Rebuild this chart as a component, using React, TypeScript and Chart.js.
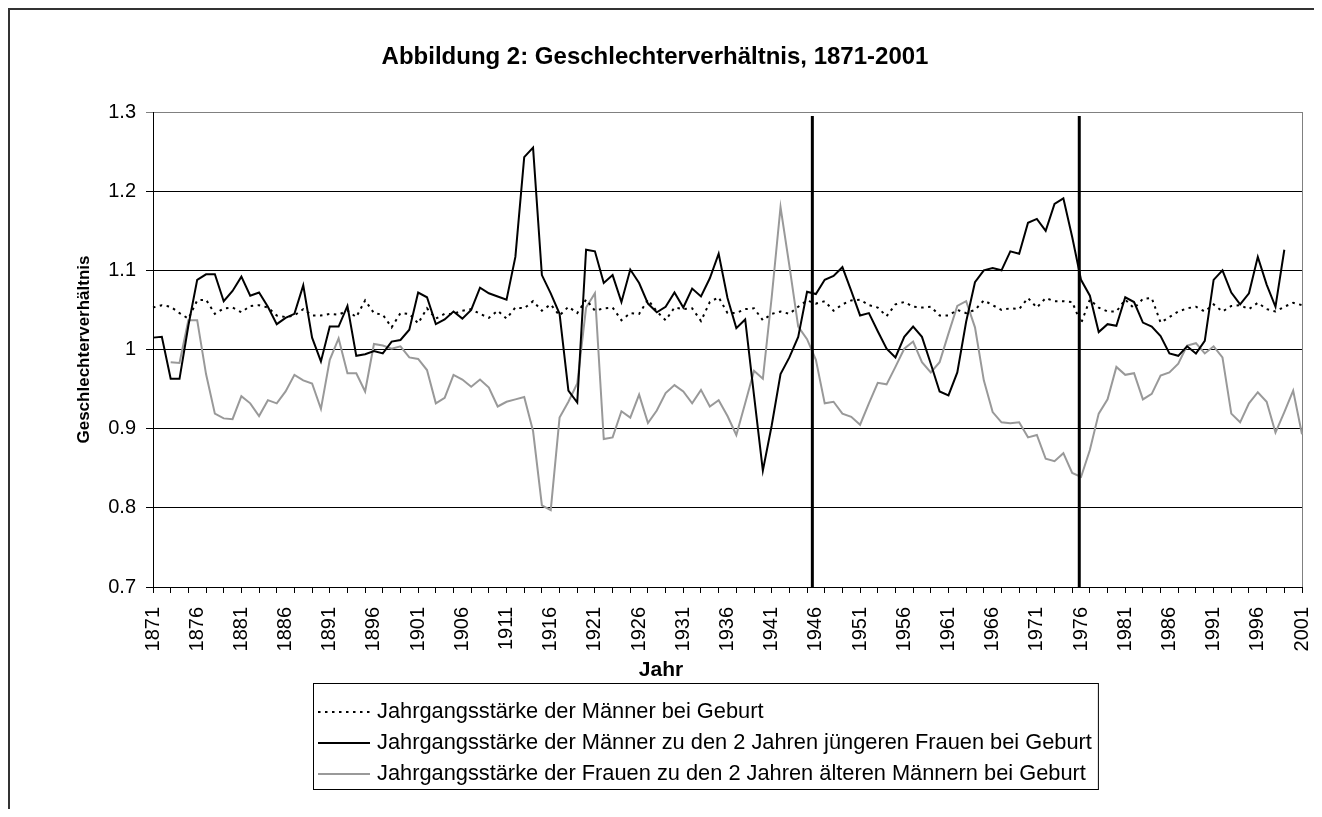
import React, { useEffect, useRef } from 'react';
import { Chart, registerables } from 'chart.js';

Chart.register(...registerables);

const FONT = "'Liberation Sans', Arial, Helvetica, sans-serif";

// Categories: years 1871 .. 2001
const years: string[] = [];
for (let y = 1871; y <= 2001; y++) years.push(String(y));

const chartTitle = 'Abbildung 2: Geschlechterverhältnis, 1871-2001';
const yAxisTitle = 'Geschlechterverhältnis';
const xAxisTitle = 'Jahr';

const seriesLabels = [
  'Jahrgangsstärke der Männer bei Geburt',
  'Jahrgangsstärke der Männer zu den 2 Jahren jüngeren Frauen bei Geburt',
  'Jahrgangsstärke der Frauen zu den 2 Jahren älteren Männern bei Geburt',
];

// Sex ratio at birth (dotted)
const ratioAtBirth: (number | null)[] = [
  1.053, 1.056, 1.054, 1.046, 1.039, 1.062, 1.063, 1.045, 1.052, 1.053, 1.047, 1.055, 1.056, 1.053, 1.043, 1.041, 1.043, 1.051, 1.043, 1.043, 1.045, 1.044, 1.049,
  1.041, 1.062, 1.046, 1.044, 1.028, 1.046, 1.045, 1.033, 1.052, 1.039, 1.045, 1.045, 1.049, 1.051, 1.045, 1.040, 1.049, 1.039, 1.053, 1.052, 1.061,
  1.049, 1.057, 1.043, 1.054, 1.046, 1.063, 1.049, 1.052, 1.053, 1.037, 1.046, 1.045, 1.063, 1.048, 1.037, 1.053, 1.051, 1.052, 1.036, 1.060, 1.066, 1.046,
  1.046, 1.051, 1.052, 1.037, 1.045, 1.048, 1.045, 1.054, 1.062, 1.058, 1.061, 1.049, 1.057, 1.062, 1.063, 1.056, 1.053, 1.042, 1.057, 1.060, 1.054,
  1.053, 1.054, 1.043, 1.043, 1.050, 1.046, 1.050, 1.062, 1.056, 1.050, 1.052, 1.051, 1.065, 1.053, 1.065, 1.061, 1.061, 1.060, 1.033, 1.063, 1.053, 1.048,
  1.048, 1.063, 1.052, 1.064, 1.065, 1.034, 1.041, 1.048, 1.052, 1.054, 1.048, 1.057, 1.048, 1.055, 1.056, 1.051, 1.059, 1.051, 1.048, 1.054, 1.059, 1.056,
];

// Men vs. women born 2 years later (solid black)
const menToYoungerWomen: (number | null)[] = [
  1.015, 1.016, 0.963, 0.963, 1.03, 1.088, 1.095, 1.095, 1.061, 1.074, 1.092, 1.068, 1.072, 1.054, 1.032, 1.040, 1.045, 1.081, 1.015, 0.985, 1.029, 1.029, 1.055,
  0.992, 0.994, 0.998, 0.995, 1.010, 1.012, 1.025, 1.072, 1.066, 1.032, 1.038, 1.048, 1.039, 1.050, 1.078, 1.071, 1.067, 1.063, 1.117, 1.243, 1.255,
  1.094, 1.071, 1.045, 0.948, 0.933, 1.126, 1.124, 1.084, 1.094, 1.060, 1.101, 1.084, 1.058, 1.047, 1.054, 1.072, 1.053, 1.077, 1.067, 1.090, 1.121, 1.065,
  1.027, 1.038, 0.942, 0.847, 0.904, 0.969, 0.990, 1.016, 1.073, 1.070, 1.088, 1.093, 1.104, 1.074, 1.043, 1.046, 1.023, 1.001, 0.990, 1.016, 1.029,
  1.016, 0.982, 0.947, 0.942, 0.971, 1.035, 1.085, 1.100, 1.103, 1.100, 1.124, 1.121, 1.160, 1.165, 1.150, 1.184, 1.191, 1.142, 1.088, 1.068, 1.022, 1.032,
  1.030, 1.066, 1.060, 1.034, 1.029, 1.017, 0.995, 0.992, 1.004, 0.995, 1.011, 1.088, 1.100, 1.072, 1.057, 1.071, 1.117, 1.082, 1.054, 1.126, null, null,
];

// Women vs. men born 2 years earlier (solid grey)
const womenToOlderMen: (number | null)[] = [
  null, null, 0.984, 0.983, 1.037, 1.037, 0.969, 0.919, 0.913, 0.912, 0.941, 0.932, 0.916, 0.936, 0.932, 0.947, 0.968, 0.961, 0.957, 0.925, 0.987, 1.014, 0.970,
  0.970, 0.947, 1.007, 1.005, 1.001, 1.004, 0.990, 0.988, 0.974, 0.932, 0.939, 0.968, 0.962, 0.953, 0.962, 0.952, 0.928, 0.934, 0.937, 0.940, 0.897,
  0.803, 0.797, 0.914, 0.934, 0.957, 1.053, 1.071, 0.887, 0.889, 0.922, 0.914, 0.943, 0.907, 0.923, 0.945, 0.955, 0.947, 0.932, 0.949, 0.928, 0.936, 0.916,
  0.892, 0.932, 0.973, 0.963, 1.066, 1.180, 1.106, 1.029, 1.013, 0.987, 0.932, 0.934, 0.919, 0.915, 0.905, 0.932, 0.958, 0.956, 0.978, 1.001, 1.010,
  0.984, 0.971, 0.984, 1.020, 1.055, 1.061, 1.028, 0.961, 0.921, 0.908, 0.907, 0.908, 0.889, 0.892, 0.862, 0.859, 0.869, 0.844, 0.839, 0.873, 0.919, 0.937,
  0.978, 0.968, 0.970, 0.937, 0.944, 0.967, 0.971, 0.982, 1.005, 1.008, 0.995, 1.004, 0.990, 0.919, 0.908, 0.932, 0.946, 0.934, 0.895, 0.921, 0.948, 0.893,
];

// Vertical reference lines (years, as placed in the picture)
const markerYears = [1945.6, 1975.8];
const markerTopValue = 1.295;

const yMin = 0.7;
const yMax = 1.3;
const yStep = 0.1;

const seriesColors = ['#000000', '#000000', '#999999'];
const seriesDashes: number[][] = [[2.5, 4.5], [], []];

const CANVAS_W = 1306;
const CANVAS_H = 801;

const framePlugin = {
  id: 'frame',
  beforeDraw(chart: any) {
    const ctx = chart.ctx;
    ctx.save();
    ctx.fillStyle = '#ffffff';
    ctx.fillRect(0, 0, chart.width, chart.height);
    ctx.fillStyle = '#333333';
    ctx.fillRect(0, 0, chart.width, 2);
    ctx.fillRect(0, 0, 2, chart.height);
    ctx.restore();
  },
  beforeDatasetsDraw(chart: any) {
    const { ctx, chartArea } = chart;
    ctx.save();
    ctx.strokeStyle = '#808080';
    ctx.lineWidth = 1;
    ctx.beginPath();
    const x = Math.round(chartArea.right) + 0.5;
    ctx.moveTo(x, chartArea.top);
    ctx.lineTo(x, chartArea.bottom);
    ctx.stroke();
    ctx.restore();
  },
};

const markerPlugin = {
  id: 'markers',
  afterDatasetsDraw(chart: any) {
    const { ctx } = chart;
    const xs = chart.scales.x;
    const ys = chart.scales.y;
    ctx.save();
    ctx.strokeStyle = '#000000';
    ctx.lineWidth = 3;
    markerYears.forEach((yr) => {
      const idx = yr - Number(years[0]);
      const x = xs.getPixelForValue(idx);
      ctx.beginPath();
      ctx.moveTo(x, ys.getPixelForValue(markerTopValue));
      ctx.lineTo(x, ys.getPixelForValue(yMin));
      ctx.stroke();
    });
    ctx.restore();
  },
};

// x-axis title, centred on the chart frame as in the original
const xTitlePlugin = {
  id: 'xTitle',
  afterDraw(chart: any) {
    const { ctx } = chart;
    ctx.save();
    ctx.font = `bold 21px ${FONT}`;
    ctx.fillStyle = '#000000';
    ctx.textAlign = 'center';
    ctx.textBaseline = 'middle';
    ctx.fillText(xAxisTitle, chart.width / 2, 662);
    ctx.restore();
  },
};

const legendPlugin = {
  id: 'boxLegend',
  afterDraw(chart: any) {
    const { ctx } = chart;
    const fontSize = 21.8;
    const boxLeft = 305;
    const boxTop = 675;
    const rowY0 = 704;
    const rowGap = 31;
    const sampleX0 = 310;
    const sampleX1 = 362;
    const textX = 369;
    ctx.save();
    ctx.font = `${fontSize}px ${FONT}`;
    let maxW = 0;
    seriesLabels.forEach((l) => {
      maxW = Math.max(maxW, ctx.measureText(l).width);
    });
    const boxRight = textX + maxW + 6;
    const boxBottom = rowY0 + rowGap * (seriesLabels.length - 1) + 15;
    ctx.strokeStyle = '#000000';
    ctx.lineWidth = 1;
    ctx.strokeRect(boxLeft + 0.5, boxTop + 0.5, boxRight - boxLeft, boxBottom - boxTop);
    seriesLabels.forEach((l, i) => {
      const y = rowY0 + i * rowGap;
      ctx.beginPath();
      ctx.setLineDash(seriesDashes[i]);
      ctx.strokeStyle = seriesColors[i];
      ctx.lineWidth = 2;
      ctx.moveTo(sampleX0, y);
      ctx.lineTo(sampleX1, y);
      ctx.stroke();
      ctx.setLineDash([]);
      ctx.fillStyle = '#000000';
      ctx.textBaseline = 'middle';
      ctx.textAlign = 'left';
      ctx.fillText(l, textX, y);
    });
    ctx.restore();
  },
};

export default function App() {
  const ref = useRef<HTMLCanvasElement | null>(null);

  useEffect(() => {
    if (!ref.current) return;
    Chart.defaults.font.family = FONT;
    const chart = new Chart(ref.current, {
      type: 'line',
      data: {
        labels: years,
        datasets: [
          {
            label: seriesLabels[0],
            data: ratioAtBirth,
            borderColor: seriesColors[0],
            borderWidth: 2,
            borderDash: seriesDashes[0],
            pointRadius: 0,
            tension: 0,
            fill: false,
            order: 0,
          },
          {
            label: seriesLabels[1],
            data: menToYoungerWomen,
            borderColor: seriesColors[1],
            borderWidth: 2,
            pointRadius: 0,
            tension: 0,
            fill: false,
            order: 1,
          },
          {
            label: seriesLabels[2],
            data: womenToOlderMen,
            borderColor: seriesColors[2],
            borderWidth: 2,
            pointRadius: 0,
            tension: 0,
            fill: false,
            order: 2,
          },
        ],
      },
      options: {
        animation: false,
        responsive: false,
        maintainAspectRatio: false,
        spanGaps: false,
        layout: { padding: { top: 0, left: 0, right: 12, bottom: 126.4 } },
        plugins: {
          legend: { display: false },
          tooltip: { enabled: false },
          title: {
            display: true,
            text: chartTitle,
            color: '#000000',
            font: { size: 24, weight: 'bold', family: FONT },
            padding: { top: 34.6, bottom: 40.6 },
          },
        },
        scales: {
          x: {
            type: 'category',
            offset: false,
            ticks: {
              autoSkip: false,
              maxRotation: 90,
              minRotation: 90,
              color: '#000000',
              font: { size: 20, family: FONT },
              padding: 14,
              callback: (_v: any, i: number) => (i % 5 === 0 ? years[i] : ''),
            },
            grid: {
              drawOnChartArea: false,
              tickLength: 6,
              offset: false,
              color: (c: any) => (c.index % 2 === 0 ? '#000000' : 'rgba(0,0,0,0)'),
            },
            border: { color: '#000000', width: 1 },
            title: { display: false },
            afterFit: (s: any) => {
              s.height = 95.6;
              s.paddingLeft = 0;
              s.paddingRight = 0;
            },
          },
          y: {
            min: yMin,
            max: yMax,
            ticks: {
              stepSize: yStep,
              color: '#000000',
              font: { size: 20, family: FONT },
              padding: 10,
              callback: (v: any) => String(Math.round(Number(v) * 10) / 10),
            },
            grid: {
              tickLength: 7,
              lineWidth: 1,
              color: (c: any) =>
                c.tick && Math.abs(c.tick.value - yMax) < 1e-6 ? '#808080' : '#000000',
            },
            border: { color: '#000000', width: 1 },
            title: {
              display: true,
              text: yAxisTitle,
              color: '#000000',
              font: { size: 17, weight: 'bold', family: FONT },
              padding: { top: 66, bottom: 0 },
            },
            afterFit: (s: any) => {
              s.width = 145;
            },
          },
        },
      },
      plugins: [framePlugin, markerPlugin, xTitlePlugin, legendPlugin],
    } as any);
    return () => chart.destroy();
  }, []);

  return (
    <canvas
      ref={ref}
      width={CANVAS_W}
      height={CANVAS_H}
      style={{ display: 'block', width: CANVAS_W, height: CANVAS_H }}
    />
  );
}
